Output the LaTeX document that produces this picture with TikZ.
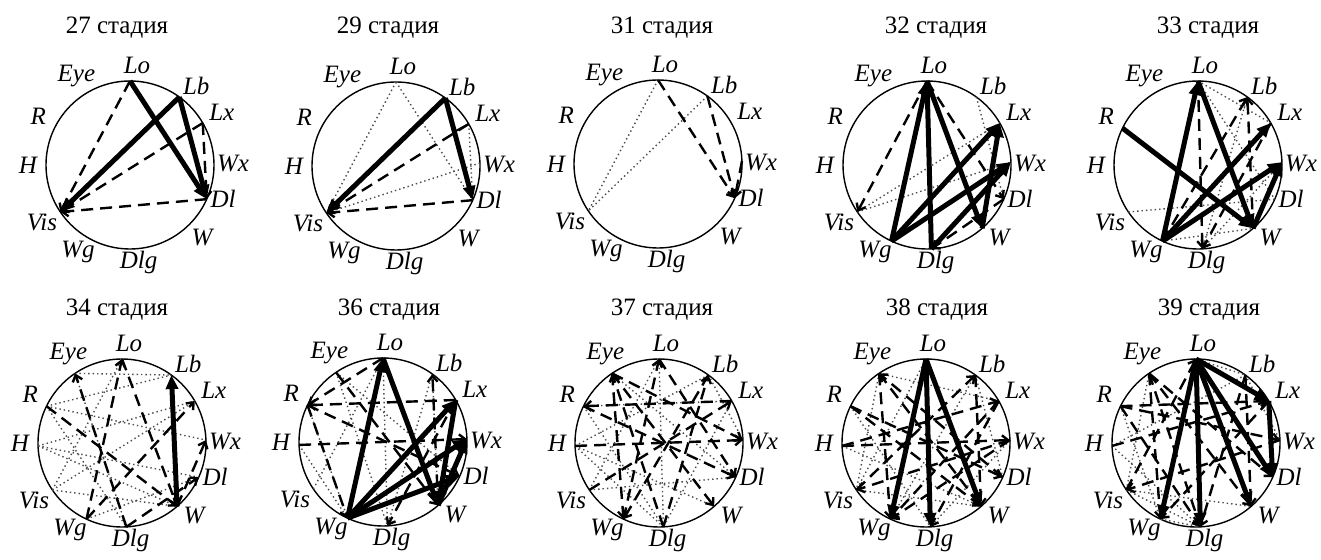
\documentclass[tikz,border=0pt]{standalone}
\usepackage{fontspec}
\setmainfont{Liberation Serif}
\usepackage{tikz}
\usetikzlibrary{arrows.meta, positioning, calc}

\tikzset{
  ring/.style={line width=1.4pt},
  lbl/.style={font=\fontsize{25}{27}\selectfont\itshape, inner sep=0pt},
  stagetitle/.style={font=\fontsize{25}{27}\selectfont, inner sep=0pt},
  strongarc/.style={line width=5pt, -{Triangle[length=14pt,width=12pt]}},
  dashlink/.style={line width=2.4pt, dash pattern=on 12pt off 7pt, -{Straight Barb[length=6pt,width=10pt]}},
  dotlink/.style={line width=1.4pt, dash pattern=on 1.4pt off 3pt, black!70},
  thinlink/.style={line width=2pt},
}

% one circle with its twelve rudiments
\newcommand{\stagering}[3]{%
  \begin{scope}[shift={(#2,#3)}]
    \draw[ring] (0,0) circle (84);
    \foreach \n/\a in {Lo/90,Lb/54,Lx/30,Wx/2,Dl/-24,W/-49,Dlg/-87,Wg/-115,Vis/-146,H/182,R/154,Eye/124}
      \coordinate (#1-\n) at (\a:84);
    \foreach \n/\a/\d in {Eye/121/104,Lo/86/100,Lb/50/103,Lx/30/106,Wx/1/103,Dl/-20/99,W/-45/102,Dlg/-85/98,Wg/-121/101,Vis/-147/105,H/180/102,R/152/104}
      \node[lbl] (#1-l\n) at (\a:\d) {\n};
  \end{scope}}

\begin{document}
\begin{tikzpicture}[x=1pt, y=1pt]
    \path[fill=white] (0,0) rectangle (1321,559);
    \useasboundingbox (0,0) rectangle (1321,559);

    % titles
    \node[stagetitle] (t27) at (117,531) {27 стадия};
    \node[stagetitle] (t29) at (388,531) {29 стадия};
    \node[stagetitle] (t31) at (662,531) {31 стадия};
    \node[stagetitle] (t32) at (936,531) {32 стадия};
    \node[stagetitle] (t33) at (1208,531) {33 стадия};
    \node[stagetitle] (t34) at (117,249) {34 стадия};
    \node[stagetitle] (t36) at (389,249) {36 стадия};
    \node[stagetitle] (t37) at (662,249) {37 стадия};
    \node[stagetitle] (t38) at (937,249) {38 стадия};
    \node[stagetitle] (t39) at (1209,249) {39 стадия};

    \stagering{p27}{130}{394}
    \stagering{p29}{396}{393}
    \stagering{p31}{658}{395}
    \stagering{p32}{927}{394}
    \stagering{p33}{1198}{394}
    \stagering{p34}{122}{116}
    \stagering{p36}{383}{117}
    \stagering{p37}{659}{116}
    \stagering{p38}{926}{116}
    \stagering{p39}{1196}{116}

    % 27
    \foreach \a/\b in {Lo/Vis, Dl/Vis, Lx/Vis, Lx/Dl}
      \draw[dashlink] (p27-\a) -- (p27-\b);
    \foreach \a/\b in {Lb/Vis, Lo/Dl, Lb/Dl}
      \draw[strongarc] (p27-\a) -- (p27-\b);

    % 29
    \foreach \a/\b in {Lo/Vis, Lo/Dl, Wx/Vis, Lx/Dl}
      \draw[dotlink] (p29-\a) -- (p29-\b);
    \foreach \a/\b in {Dl/Vis, Lx/Vis}
      \draw[dashlink] (p29-\a) -- (p29-\b);
    \foreach \a/\b in {Lb/Vis, Lb/Dl}
      \draw[strongarc] (p29-\a) -- (p29-\b);
    \coordinate (p29-mid) at ($(p29-Lb)!0.33!(p29-Dl)$);
    \draw[thinlink] (p29-Lx) -- (p29-mid);

    % 31
    \foreach \a/\b in {Lo/Vis, Lb/Vis}
      \draw[dotlink] (p31-\a) -- (p31-\b);
    \foreach \a/\b in {Lo/Dl, Lb/Dl, Wx/Dl}
      \draw[dashlink] (p31-\a) -- (p31-\b);

    % 32
    \foreach \a/\b in {Lb/Dl, Vis/Wx, Vis/Lx}
      \draw[dotlink] (p32-\a) -- (p32-\b);
    \foreach \a/\b in {Lo/Vis, Lo/Dl, Dl/Dlg}
      \draw[dashlink] (p32-\a) -- (p32-\b);
    \foreach \a/\b in {Wg/Lo, Dlg/Lo, Lo/W, Wg/Lx, W/Lx, Wg/Wx, Dlg/Wx}
      \draw[strongarc] (p32-\a) -- (p32-\b);

    % 33
    \foreach \a/\b in {Vis/Dl, Lo/Dl, Lb/Dlg, Dlg/Wx, Wg/W, Lo/Lx}
      \draw[dotlink] (p33-\a) -- (p33-\b);
    \foreach \a/\b in {Lo/Dlg, W/Lb, Wg/Lb, Lx/Dlg}
      \draw[dashlink] (p33-\a) -- (p33-\b);
    \foreach \a/\b in {R/W, Wg/Lo, Lo/W, Wg/Lx, Wg/Wx, W/Wx}
      \draw[strongarc] (p33-\a) -- (p33-\b);

    % 34
    \foreach \a/\b in {Eye/Lb, R/Lb, R/Wx, H/Dl, H/W, Vis/Lx, Vis/W, Eye/Dlg, Wg/Dl, R/Dlg, H/Lx, Vis/Lo}
      \draw[dotlink] (p34-\a) -- (p34-\b);
    \foreach \a/\b in {Wg/Lo, Lo/W, R/W, Wg/Lx, Dlg/Dl, W/Wx, Dlg/Eye}
      \draw[dashlink] (p34-\a) -- (p34-\b);
    \draw[strongarc] (p34-W) -- (p34-Lb);

    % 36
    \foreach \a/\b in {R/Wg, H/Wg, Eye/Dlg, Lb/Dlg, Vis/Lo, Lb/W, Eye/Dl, Lo/Dlg}
      \draw[dotlink] (p36-\a) -- (p36-\b);
    \foreach \a/\b in {Lx/R, Lo/R, Eye/W, R/Dl, R/Wg, W/Lb, H/Wx, Lx/Dlg}
      \draw[dashlink] (p36-\a) -- (p36-\b);
    \foreach \a/\b in {Wg/Lo, Lo/W, Wg/Lx, Wg/Wx, Lx/W, Wg/Dl, W/Wx}
      \draw[strongarc] (p36-\a) -- (p36-\b);

    % 37
    \foreach \a/\b in {H/Lb, Vis/Dl, R/Dlg, H/Dlg, Eye/Dl, Lo/Dlg, Lb/Wx, Vis/Lo, H/W, Lx/Dlg, R/Lx}
      \draw[dotlink] (p37-\a) -- (p37-\b);
    \foreach \a/\b in {Wg/Lo, Lx/R, Eye/Wg, Eye/W, R/Dl, Eye/Wx, Vis/Lx, Dlg/Lb, Lo/Dl, H/Wx, Dlg/Eye, Lb/Wg}
      \draw[dashlink] (p37-\a) -- (p37-\b);

    % 38
    \foreach \a/\b in {Eye/Vis, R/Dlg, Lb/Dl, Lo/Vis, Eye/Lx, H/W, Vis/W, Lb/Wg, Wx/Dlg}
      \draw[dotlink] (p38-\a) -- (p38-\b);
    \foreach \a/\b in {Eye/Wg, R/Dl, H/Lx, Vis/Lb, Lb/W, Lx/Wg, Wx/Vis, Dl/Eye, R/W, Lx/Dlg, Wx/Wg, Eye/W, H/Wx}
      \draw[dashlink] (p38-\a) -- (p38-\b);
    \foreach \a/\b in {Lo/Wg, Lo/Dlg, Lo/W}
      \draw[strongarc] (p38-\a) -- (p38-\b);

    % 39
    \foreach \a/\b in {H/Dlg, Vis/Eye, R/Wg, H/Lb, Vis/Dlg, Lo/Lb, Wg/Dlg, Lb/Wx, Vis/W}
      \draw[dotlink] (p39-\a) -- (p39-\b);
    \foreach \a/\b in {Eye/Wg, R/Wx, Eye/Dl, H/Lx, Vis/Lo, Eye/W, R/Dlg, Lx/Wg, Lb/Dlg, Wx/Vis, Eye/Dlg, R/Lx, Lb/W}
      \draw[dashlink] (p39-\a) -- (p39-\b);
    \foreach \a/\b in {Lo/Wg, Lo/Dlg, Lo/W, Lo/Dl, Lo/Lx, Lx/Dl}
      \draw[strongarc] (p39-\a) -- (p39-\b);
\end{tikzpicture}
\end{document}
